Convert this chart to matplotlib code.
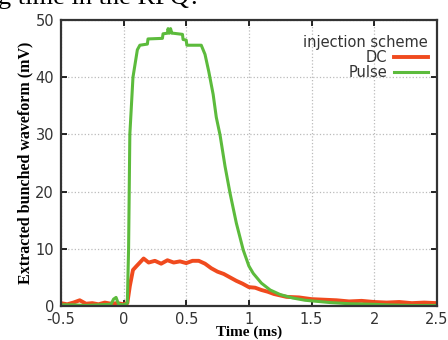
import matplotlib
matplotlib.use("Agg")
import matplotlib.pyplot as plt

# Pulse injection (green)
t_pulse = [-0.5, -0.4, -0.3, -0.2, -0.1, -0.08, -0.06, -0.04, 0.0, 0.03, 0.04, 0.05,
           0.075, 0.11, 0.13, 0.19, 0.195, 0.31, 0.315, 0.35, 0.355, 0.365, 0.375,
           0.385, 0.395, 0.47, 0.475, 0.5, 0.505, 0.62, 0.65, 0.68, 0.715, 0.74,
           0.77, 0.81, 0.85, 0.90, 0.955, 1.0, 1.035, 1.1, 1.17, 1.25, 1.35, 1.45,
           1.55, 1.65, 1.8, 2.0, 2.1, 2.3, 2.5]
v_pulse = [0.2, 0.2, 0.1, 0.2, 0.3, 1.2, 1.5, 0.3, 0.2, 0.5, 10, 30,
           40, 44.8, 45.6, 45.8, 46.7, 46.8, 47.6, 47.7, 48.5, 47.7, 48.5,
           47.7, 47.7, 47.5, 46.6, 46.5, 45.6, 45.6, 44, 41, 37, 33,
           29.9, 24.4, 19.7, 14.5, 9.8, 7, 5.7, 4, 2.8, 2.0, 1.4, 1.0,
           0.8, 0.6, 0.4, 0.3, 0.2, 0.1, 0.1]

# DC injection (red)
t_dc = [-0.5, -0.45, -0.4, -0.35, -0.3, -0.25, -0.2, -0.15, -0.1, -0.05, 0.0, 0.03,
        0.05, 0.075, 0.1, 0.13, 0.16, 0.2, 0.25, 0.3, 0.35, 0.4, 0.45, 0.5, 0.55,
        0.6, 0.65, 0.7, 0.75, 0.8, 0.85, 0.9, 0.95, 1.0, 1.05, 1.1, 1.15, 1.2,
        1.3, 1.4, 1.5, 1.6, 1.7, 1.8, 1.9, 2.0, 2.1, 2.2, 2.3, 2.4, 2.5]
v_dc = [0.5, 0.3, 0.6, 1.0, 0.4, 0.5, 0.3, 0.6, 0.4, 0.5, 0.3, 0.5,
        3.5, 6.3, 6.9, 7.6, 8.3, 7.6, 7.9, 7.4, 8.0, 7.6, 7.8, 7.5, 7.9,
        7.9, 7.4, 6.6, 6.0, 5.6, 5.0, 4.4, 3.9, 3.3, 3.2, 2.8, 2.5, 2.1,
        1.6, 1.5, 1.2, 1.1, 1.0, 0.8, 0.9, 0.7, 0.6, 0.7, 0.5, 0.6, 0.5]

xticks = [-0.5, 0, 0.5, 1, 1.5, 2, 2.5]
xticklabels = ['-0.5', '0', '0.5', '1', '1.5', '2', '2.5']
yticks = [0, 10, 20, 30, 40, 50]

fig = plt.figure(figsize=(4.48, 3.4), dpi=100)
ax = fig.add_axes([0.136, 0.1, 0.839, 0.841])

ax.plot(t_dc, v_dc, color='#f04a1e', lw=2.8, label='DC')
ax.plot(t_pulse, v_pulse, color='#5cbb3c', lw=2.2, label='Pulse')

ax.set_xlim(-0.5, 2.5)
ax.set_ylim(0, 50)
ax.set_xticks(xticks)
ax.set_xticklabels(xticklabels)
ax.set_yticks(yticks)
ax.grid(True, color='#bbbbbb', linestyle=':', linewidth=0.9)
ax.tick_params(direction='in', top=True, right=True, length=4, width=1.2,
               labelsize=10.5, labelcolor='#333333')
ax.tick_params(axis='x', pad=4)
ax.tick_params(axis='y', pad=5)
for s in ax.spines.values():
    s.set_linewidth(1.6)
    s.set_color('#333333')

ax.set_xlabel('Time (ms)', family='Liberation Serif', fontweight='bold',
              fontsize=11, labelpad=-1)
ax.set_ylabel('Extracted bunched waveform (mV)', family='Liberation Serif',
              fontweight='bold', fontsize=11.5, labelpad=1)

leg = ax.legend(title='injection scheme', loc='upper right',
                bbox_to_anchor=(0.976, 0.948), frameon=False,
                markerfirst=False, fontsize=10.5, title_fontsize=10.5,
                handlelength=2.3, labelspacing=0.0, borderpad=0.0,
                borderaxespad=0.0, handletextpad=0.5, alignment='right')
for txt in leg.get_texts():
    txt.set_color('#333333')
leg.get_title().set_color('#333333')

fig.text(-0.005, 0.989, 'g time in the RFQ?', family='Liberation Serif',
         fontsize=19, va='baseline')

fig.savefig('out.png', dpi=100)
